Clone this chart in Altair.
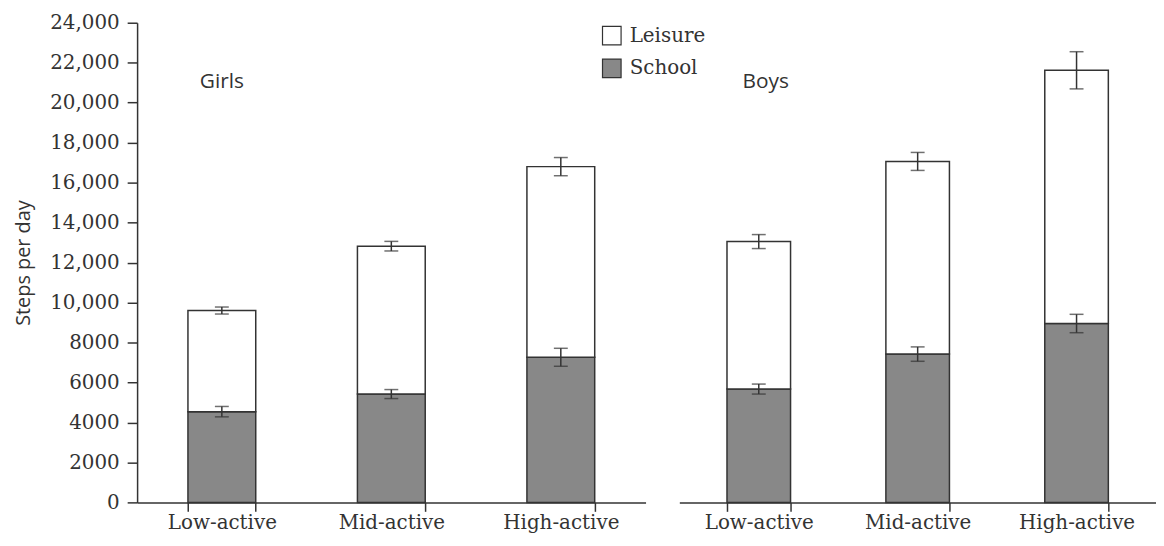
import altair as alt
import pandas as pd

levels = ["Low-active", "Mid-active", "High-active"]
series = ["Leisure", "School"]
y_ticks = list(range(0, 24001, 2000))

girls_school = [4540, 5420, 7260]
girls_school_err = [260, 225, 450]
girls_total = [9600, 12820, 16800]
girls_total_err = [175, 240, 455]

boys_school = [5670, 7420, 8950]
boys_school_err = [250, 360, 460]
boys_total = [13050, 17060, 21620]
boys_total_err = [350, 450, 930]

INK = "#333333"
SERIF = "DejaVu Serif"
SANS = "Open Sans"


def make_df(group, school, school_err, total, total_err):
    rows = []
    for i, lv in enumerate(levels):
        rows.append(dict(group=group, level=lv, type="School", lo=0, hi=school[i], err=school_err[i]))
        rows.append(dict(group=group, level=lv, type="Leisure", lo=school[i], hi=total[i], err=total_err[i]))
    return pd.DataFrame(rows)


def panel(name, df, width, show_y, show_legend, label_dx):
    base = alt.Chart(df).transform_calculate(
        top="datum.hi + datum.err", bot="datum.hi - datum.err"
    )
    x = alt.X(
        "level:N",
        sort=levels,
        scale=alt.Scale(domain=levels, paddingInner=0.6, paddingOuter=0.3),
        axis=alt.Axis(
            title=None, labelAngle=0, tickBand="extent", tickSize=9,
            tickColor=INK, tickWidth=1.5, domainColor=INK, domainWidth=1.5,
            labelFont=SERIF, labelFontSize=20, labelColor=INK, labelPadding=1,
        ),
    )
    yscale = alt.Scale(domain=[0, 24000], nice=False)
    if show_y:
        yaxis = alt.Axis(
            title="Steps per day", titleFont=SANS, titleFontSize=20,
            titleFontWeight="normal", titleColor=INK, titlePadding=16,
            values=y_ticks, grid=False, tickSize=10, tickColor=INK, tickWidth=1.5,
            domainColor=INK, domainWidth=1.5, labelFont=SERIF, labelFontSize=20,
            labelColor=INK, labelPadding=8,
            labelExpr="datum.value >= 10000 ? format(datum.value, ',') : format(datum.value, 'd')",
        )
    else:
        yaxis = None
    if show_legend:
        legend = alt.Legend(
            title=None, orient="none", legendX=468, legendY=3,
            symbolType="square", symbolSize=350, symbolStrokeColor=INK,
            symbolStrokeWidth=1.2, labelFont=SERIF, labelFontSize=20,
            labelColor=INK, labelOffset=8, rowPadding=9, padding=0,
        )
    else:
        legend = None
    fill = alt.Fill(
        "type:N",
        scale=alt.Scale(domain=series, range=["#ffffff", "#888888"]),
        legend=legend,
    )
    bars = base.mark_bar(stroke=INK, strokeWidth=1.5).encode(
        x=x, y=alt.Y("hi:Q", scale=yscale, axis=yaxis), y2="lo:Q", fill=fill
    )
    rules = base.mark_rule(color=INK, strokeWidth=1.5).encode(
        x=alt.X("level:N", sort=levels), y="bot:Q", y2="top:Q"
    )
    cap_top = base.mark_tick(color=INK, size=14, thickness=1.5).encode(
        x=alt.X("level:N", sort=levels), y="top:Q"
    )
    cap_bot = base.mark_tick(color=INK, size=14, thickness=1.5).encode(
        x=alt.X("level:N", sort=levels), y="bot:Q"
    )
    label = alt.Chart(pd.DataFrame({"group": [name], "level": [levels[0]]})).mark_text(
        font=SANS, fontSize=21, color=INK, dx=label_dx
    ).encode(x=alt.X("level:N", sort=levels), y=alt.value(60), text="group:N")
    return alt.layer(bars, rules, cap_top, cap_bot, label).properties(width=width, height=483)


girls = panel("Girls", make_df("Girls", girls_school, girls_school_err, girls_total, girls_total_err), 512, True, True, 0)
boys = panel("Boys", make_df("Boys", boys_school, boys_school_err, boys_total, boys_total_err), 480, False, False, 7)

chart = (
    alt.hconcat(girls, boys, spacing=34, bounds="flush")
    .resolve_scale(y="independent", fill="independent")
    .resolve_legend(fill="independent")
    .configure_view(stroke=None)
    .properties(padding={"left": 6, "top": 3, "right": 0, "bottom": 0}, background="white")
)

chart.save("out.html", embed_options={"renderer": "svg", "actions": False})
